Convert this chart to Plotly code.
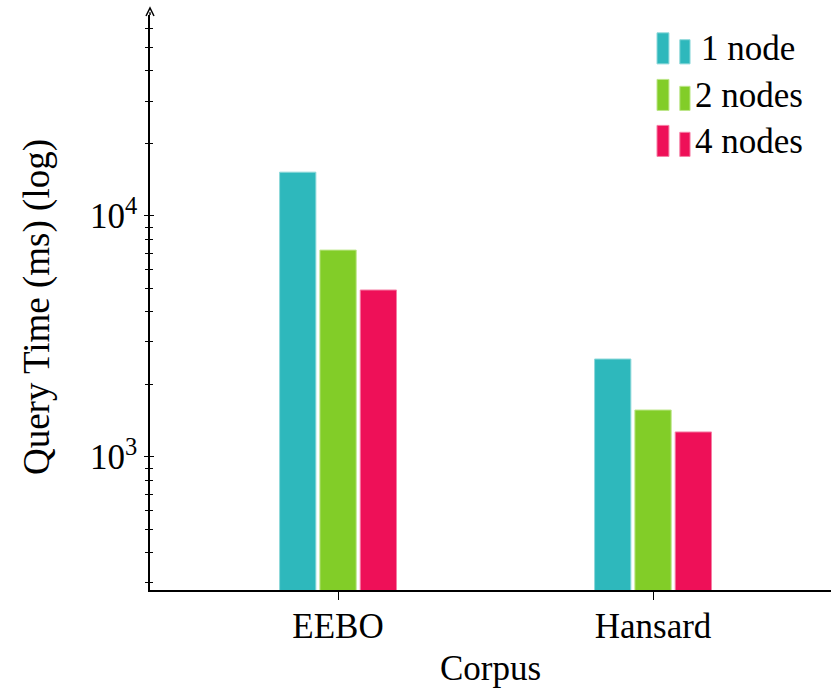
import plotly.graph_objects as go

categories = ["EEBO", "Hansard"]
series_names = ["1 node", "2 nodes", "4 nodes"]
one_node = [15200, 2550]
two_nodes = [7220, 1566]
four_nodes = [4930, 1270]
colors = ["#2EB8BC", "#82CD28", "#EE1058"]
edge_colors = ["#8ED8DA", "#BDE68A", "#F57FA5"]
major_ticks = [1000, 10000]
major_labels = ["10<sup>3</sup>", "10<sup>4</sup>"]
minor_ticks = [m * 10 ** e for e in (2, 3, 4) for m in range(2, 10) if 250 < m * 10 ** e < 70000]

FONT = "Liberation Serif"
FS = 35
fig = go.Figure()
for name, vals, c, ec in zip(series_names, [one_node, two_nodes, four_nodes], colors, edge_colors):
    fig.add_trace(go.Bar(x=categories, y=vals, name=name, marker=dict(color=c, line=dict(color=ec, width=1)),
                         showlegend=False))

fig.add_trace(go.Scatter(x=categories, y=[1000, 1000], yaxis="y2", mode="markers",
                         marker=dict(opacity=0), showlegend=False, hoverinfo="skip"))

yr = [2.448, 4.834]
fig.update_layout(
    width=831, height=695,
    margin=dict(l=150, r=0, t=15, b=105),
    plot_bgcolor="white", paper_bgcolor="white",
    barmode="group", bargap=0.616, bargroupgap=0.1,
    font=dict(family=FONT, size=FS, color="black"),
    xaxis=dict(range=[-0.597, 1.565], showline=True, linecolor="black", linewidth=1.5,
               ticks="outside", ticklen=8, tickcolor="black", tickwidth=1, ticklabelstandoff=-4,
               showgrid=False, zeroline=False, tickfont=dict(family=FONT, size=FS)),
    yaxis=dict(type="log", range=yr, showline=True, linecolor="black", linewidth=1.5,
               tickvals=major_ticks, ticktext=major_labels, ticks="outside", ticklen=4,
               tickcolor="black", tickwidth=1, showgrid=False, zeroline=False,
               minor=dict(tickvals=minor_ticks, ticks="outside", ticklen=3, tickcolor="black", tickwidth=1),
               tickfont=dict(family=FONT, size=FS)),
    yaxis2=dict(type="log", range=yr, overlaying="y", side="left", showline=False,
                tickvals=major_ticks, ticks="inside", ticklen=4,
                tickcolor="black", tickwidth=1, showgrid=False, zeroline=False,
                minor=dict(tickvals=minor_ticks, ticks="inside", ticklen=3, tickcolor="black", tickwidth=1),
                showticklabels=False),
)

fig.add_annotation(text="Query Time (ms) (log)", xref="paper", yref="paper", x=-0.166, y=0.492,
                   textangle=-90, showarrow=False, font=dict(family=FONT, size=37), xanchor="center", yanchor="middle")
fig.add_annotation(text="Corpus", xref="paper", yref="paper", x=0.5, y=-0.136,
                   showarrow=False, font=dict(family=FONT, size=FS), xanchor="center", yanchor="middle")

fig.add_shape(type="line", xref="paper", yref="paper", x0=0, x1=0, y0=1, y1=1.005,
              line=dict(color="black", width=1.5))
fig.add_shape(type="path", xref="paper", yref="paper", xsizemode="pixel", ysizemode="pixel",
              xanchor=0, yanchor=1.0, path="M -4 -1 L 0 7 L 4 -1",
              line=dict(color="black", width=1.5))

row_bottom = [0.915, 0.834, 0.754]
for i, (name, c, ec) in enumerate(zip(series_names, colors, edge_colors)):
    yb = row_bottom[i]
    fig.add_shape(type="rect", xref="paper", yref="paper", x0=0.7445, x1=0.762,
                  y0=yb, y1=yb + 0.054, fillcolor=c, line=dict(color=ec, width=1))
    fig.add_shape(type="rect", xref="paper", yref="paper", x0=0.778, x1=0.793,
                  y0=yb, y1=yb + 0.042, fillcolor=c, line=dict(color=ec, width=1))
    fig.add_annotation(text=name, xref="paper", yref="paper", x=0.806 if i == 0 else 0.798, y=yb + 0.026,
                       xanchor="left", yanchor="middle", showarrow=False, font=dict(family=FONT, size=FS))

fig.write_html("out.html")
